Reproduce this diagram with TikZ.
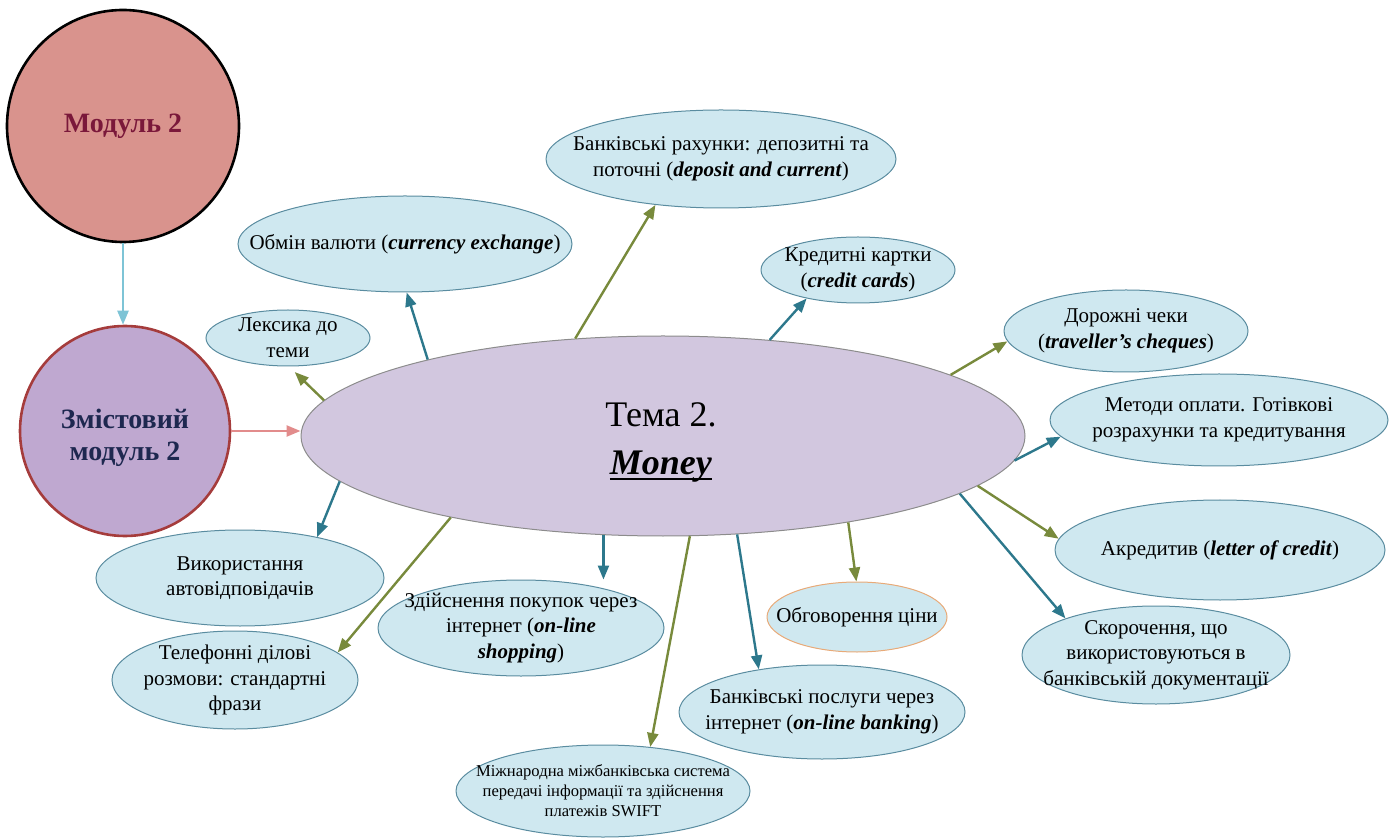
\documentclass[tikz,border=0pt]{standalone}
\usepackage{fontspec}
\setmainfont{Liberation Serif}
\usetikzlibrary{arrows.meta,shapes.geometric}
\definecolor{modfill}{RGB}{217,147,141}
\definecolor{modtext}{RGB}{122,24,58}
\definecolor{zmfill}{RGB}{191,168,208}
\definecolor{zmborder}{RGB}{165,60,60}
\definecolor{zmtext}{RGB}{30,40,80}
\definecolor{cfill}{RGB}{210,199,223}
\definecolor{cborder}{RGB}{140,140,140}
\definecolor{bfill}{RGB}{207,232,240}
\definecolor{bborder}{RGB}{90,140,160}
\definecolor{oborder}{RGB}{232,170,120}
\definecolor{tealar}{RGB}{45,120,140}
\definecolor{olivear}{RGB}{120,138,60}
\definecolor{lblue}{RGB}{126,196,214}
\definecolor{pinkar}{RGB}{226,140,140}
\newcommand{\enterm}[1]{\textbf{\textit{#1}}}
\newcommand{\thickul}[1]{\setbox0\hbox{#1}\rlap{\rule[-3pt]{\wd0}{1.1pt}}\box0}
\begin{document}
\begin{tikzpicture}[x=0.5pt,y=-0.5pt,
  bubble/.style={ellipse, draw=bborder, fill=bfill, line width=0.5pt, inner sep=0pt},
  txt/.style={align=center, font=\fontsize{10.5}{12.8}\selectfont, inner sep=0pt},
  tarrow/.style={draw=tealar, line width=1.2pt, -{Triangle[length=7pt,width=5.5pt]}},
  garrow/.style={draw=olivear, line width=1.2pt, -{Triangle[length=7pt,width=5.5pt]}}]
\useasboundingbox (0,0) rectangle (1400,838);

% modules
\node[circle, draw=black, line width=1.3pt, fill=modfill, minimum size=116pt, inner sep=0pt,
  font=\fontsize{14}{16}\selectfont\bfseries, text=modtext] (mod) at (123,126) {Модуль 2};
\node[circle, draw=zmborder, line width=1.3pt, fill=zmfill, minimum size=105pt, inner sep=0pt] (zm) at (125,431) {};
\node[align=center, font=\fontsize{14}{16}\selectfont\bfseries, text=zmtext, inner sep=0pt] (zm-t) at ([yshift=-3.5pt]zm.center) {Змістовий\\модуль 2};

% centre
\node[ellipse, draw=cborder, line width=0.5pt, fill=cfill, minimum width=362pt, minimum height=100pt, inner sep=0pt] (c) at (663,436) {};
\node[align=center, font=\fontsize{18}{24}\selectfont, inner sep=0pt] (ct) at (661,442) {Тема 2.\\\thickul{\textbf{\textit{Money}}}};

\draw[draw=lblue, line width=1.2pt, -{Triangle[length=7pt,width=5.5pt]}] (mod.south) -- (mod.south |- zm.north);
\draw[draw=pinkar, line width=1.2pt, -{Triangle[length=7pt,width=5.5pt]}] (zm.east) -- (zm.east -| c.west);

% bubbles
\node[bubble, minimum width=82pt, minimum height=28pt] (lex) at (288,338) {};
\node[txt] (lex-t) at (lex) {Лексика до\\теми};
\node[bubble, minimum width=167pt, minimum height=48pt] (obm) at (405,244) {};
\node[txt] (obm-t) at (obm) {Обмін валюти (\enterm{currency exchange})};
\node[bubble, minimum width=175pt, minimum height=49pt] (brah) at (721,159) {};
\node[txt] (brah-t) at (brah) {Банківські рахунки: депозитні та\\поточні (\enterm{deposit and current})};
\node[bubble, minimum width=97pt, minimum height=33pt] (kred) at (858,270) {};
\node[txt] (kred-t) at (kred) {Кредитні картки\\(\enterm{credit cards})};
\node[bubble, minimum width=122pt, minimum height=41pt] (dor) at (1126,331) {};
\node[txt] (dor-t) at (dor) {Дорожні чеки\\(\enterm{traveller’s cheques})};
\node[bubble, minimum width=169pt, minimum height=46pt] (met) at (1219,420) {};
\node[txt] (met-t) at (met) {Методи оплати. Готівкові\\розрахунки та кредитування};
\node[bubble, minimum width=165pt, minimum height=50pt] (akr) at (1220,550) {};
\node[txt] (akr-t) at (akr) {Акредитив (\enterm{letter of credit})};
\node[bubble, minimum width=134pt, minimum height=49pt] (skor) at (1156,655) {};
\node[txt] (skor-t) at (skor) {Скорочення, що\\використовуються в\\банківській документації};
\node[bubble, draw=oborder, minimum width=90pt, minimum height=35pt] (obg) at (857,617) {};
\node[txt] (obg-t) at (obg) {Обговорення ціни};
\node[bubble, minimum width=143pt, minimum height=47pt] (bpos) at (822,712) {};
\node[txt] (bpos-t) at (bpos) {Банківські послуги через\\інтернет (\enterm{on-line banking})};
\node[bubble, minimum width=147pt, minimum height=46pt] (swift) at (603,791) {};
\node[txt, font=\fontsize{8.3}{10}\selectfont] (swift-t) at (swift) {Міжнародна міжбанківська система\\передачі інформації та здійснення\\платежів SWIFT};
\node[bubble, minimum width=143pt, minimum height=48pt] (zd) at (521,628) {};
\node[txt] (zd-t) at (zd) {Здійснення покупок через\\інтернет (\enterm{on-line}\\\enterm{shopping})};
\node[bubble, minimum width=123pt, minimum height=49pt] (tel) at (235,680) {};
\node[txt] (tel-t) at (tel) {Телефонні ділові\\розмови: стандартні\\фрази};
\node[bubble, minimum width=144pt, minimum height=48pt] (vyk) at (240,578) {};
\node[txt] (vyk-t) at (vyk) {Використання\\автовідповідачів};

% connectors
\draw[garrow, shorten >=4pt] (c.174.5) -- (lex.-88);
\draw[tarrow] (c.162.5) -- (obm.-88);
\draw[garrow] (c.132.3) -- (brah.-145.4);
\draw[tarrow] (c.42.7) -- (kred.-151.6);
\draw[garrow] (c.12.7) -- (dor.-175.5);
\draw[tarrow] (c.-4.25) -- (met.-174.9);
\draw[garrow] (c.-9.9) -- (akr.176.5);
\draw[tarrow] (c.-11.9) -- (skor.158.9);
\draw[garrow] (c.-25.5) -- (obg.91.5);
\draw[tarrow] (c.-53.2) -- (bpos.146.9);
\draw[garrow] (c.-75) -- (swift.43.8);
\draw[tarrow] (c.239.3) -- (c.239.3 |- zd.north);
\draw[garrow] (c.201.3) -- (tel.15);
\draw[tarrow] (c.188.5) -- (vyk.28.7);
\end{tikzpicture}
\end{document}
